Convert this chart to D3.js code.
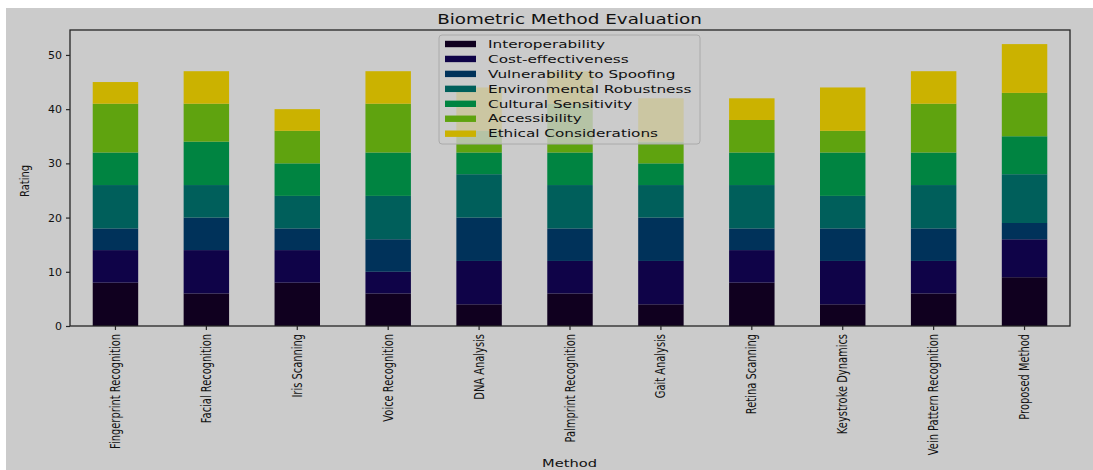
<!DOCTYPE html>
<html>
<head>
<meta charset="utf-8">
<script src="https://cdn.jsdelivr.net/npm/d3@7"></script>
<style>
  html, body { margin: 0; padding: 0; background: #ffffff; }
  svg { display: block; }
  text { font-family: "DejaVu Sans", sans-serif; fill: #111; }
</style>
</head>
<body>
<svg id="chart" width="1093" height="470"></svg>
<script>
const categories = ["Fingerprint Recognition", "Facial Recognition", "Iris Scanning", "Voice Recognition",
  "DNA Analysis", "Palmprint Recognition", "Gait Analysis", "Retina Scanning",
  "Keystroke Dynamics", "Vein Pattern Recognition", "Proposed Method"];
const seriesNames = ["Interoperability", "Cost-effectiveness", "Vulnerability to Spoofing",
  "Environmental Robustness", "Cultural Sensitivity", "Accessibility", "Ethical Considerations"];
const interoperability = [8, 6, 8, 6, 4, 6, 4, 8, 4, 6, 9];
const costEffectiveness = [6, 8, 6, 4, 8, 6, 8, 6, 8, 6, 7];
const vulnerability = [4, 6, 4, 6, 8, 6, 8, 4, 6, 6, 3];
const environmental = [8, 6, 6, 8, 8, 8, 6, 8, 6, 8, 9];
const cultural = [6, 8, 6, 8, 4, 6, 4, 6, 8, 6, 7];
const accessibility = [9, 7, 6, 9, 4, 9, 4, 6, 4, 9, 8];
const ethical = [4, 6, 4, 6, 8, 6, 8, 4, 8, 6, 9];
const seriesValues = [interoperability, costEffectiveness, vulnerability, environmental, cultural, accessibility, ethical];
const colors = ["#10001f", "#0f0348", "#00325a", "#005f5b", "#008441", "#5fa30f", "#cbb200"];
const yTicks = [0, 10, 20, 30, 40, 50];

(function () {
const svg = d3.select("#chart");
const W = 1093, H = 470;
const bg = "#cbcbcb";
svg.append("rect").attr("x", 6).attr("y", 8).attr("width", W - 6).attr("height", H - 8).attr("fill", bg);

const pL = 70, pR = 1070, pT = 30, pB = 326;

const x = d3.scaleBand().domain(categories).range([pL, pR]).paddingInner(0.5).paddingOuter(0.25);
const y = d3.scaleLinear().domain([0, 54.6]).range([pB, pT]);

const rows = categories.map((c, i) => {
  const r = { cat: c };
  seriesNames.forEach((s, j) => r[s] = seriesValues[j][i]);
  return r;
});
const stacked = d3.stack().keys(seriesNames)(rows);

const g = svg.append("g");
g.selectAll("g.layer").data(stacked).join("g")
  .attr("class", "layer")
  .attr("fill", (d, i) => colors[i])
  .selectAll("rect").data(d => d).join("rect")
  .attr("x", d => x(d.data.cat))
  .attr("width", x.bandwidth())
  .attr("y", d => y(d[1]))
  .attr("height", d => y(d[0]) - y(d[1]));

svg.append("rect").attr("x", pL).attr("y", pT).attr("width", pR - pL).attr("height", pB - pT)
  .attr("fill", "none").attr("stroke", "#262626").attr("stroke-width", 1.3);

function fit(sel, target, ref) {
  const len = sel.filter(function () { return this.textContent === ref; }).node().getComputedTextLength();
  return target / len;
}

const yAxis = d3.axisLeft(y).tickValues(yTicks).tickSize(4).tickPadding(4);
const ya = svg.append("g").attr("transform", `translate(${pL},0)`).call(yAxis);
ya.select(".domain").remove();
ya.selectAll(".tick line").attr("stroke", "#262626").attr("stroke-width", 1.2);
ya.selectAll(".tick text").attr("font-size", 11).attr("fill", "#111").attr("font-family", "DejaVu Sans");

const xAxis = d3.axisBottom(x).tickSize(4).tickPadding(0);
const xa = svg.append("g").attr("transform", `translate(0,${pB})`).call(xAxis);
xa.select(".domain").remove();
xa.selectAll(".tick line").attr("stroke", "#262626").attr("stroke-width", 1.2);
const xt = xa.selectAll(".tick text")
  .attr("font-size", 13.5).attr("fill", "#111").attr("font-family", "DejaVu Sans")
  .attr("text-anchor", "end").attr("dy", null).attr("y", null)
  .attr("dominant-baseline", "central");
const sxTick = fit(xt, 115, "Fingerprint Recognition");
xt.attr("transform", `translate(0,8) rotate(-90) scale(${sxTick},1)`);

const yl = svg.append("text").text("Rating").attr("font-size", 13).attr("text-anchor", "middle");
const syl = 32 / yl.node().getComputedTextLength();
yl.attr("transform", `translate(29,181) rotate(-90) scale(${syl},1)`);

const xl = svg.append("text").text("Method").attr("font-size", 10.5).attr("text-anchor", "middle");
const sxl = 55 / xl.node().getComputedTextLength();
xl.attr("transform", `translate(569.5,467) scale(${sxl},1)`);

const tt = svg.append("text").text("Biometric Method Evaluation").attr("font-size", 13.5).attr("text-anchor", "middle");
const stt = 265 / tt.node().getComputedTextLength();
tt.attr("transform", `translate(569.5,24) scale(${stt},1)`);

const lg = svg.append("g");
lg.append("rect").attr("x", 439).attr("y", 35).attr("width", 261).attr("height", 109).attr("rx", 3)
  .attr("fill", bg).attr("fill-opacity", 0.8).attr("stroke", "#aaaaaa").attr("stroke-width", 1);
const items = lg.selectAll("g.item").data(seriesNames).join("g").attr("class", "item")
  .attr("transform", (d, i) => `translate(0,${44 + i * 14.95})`);
items.append("rect").attr("x", 445).attr("y", -3.2).attr("width", 31).attr("height", 6.4)
  .attr("fill", (d, i) => colors[i]);
const lt = items.append("text").text(d => d).attr("font-size", 11).attr("dominant-baseline", "central");
const slg = fit(lt, 117, "Interoperability");
lt.attr("transform", `translate(488,0) scale(${slg},1)`);
})();
</script>
</body>
</html>
